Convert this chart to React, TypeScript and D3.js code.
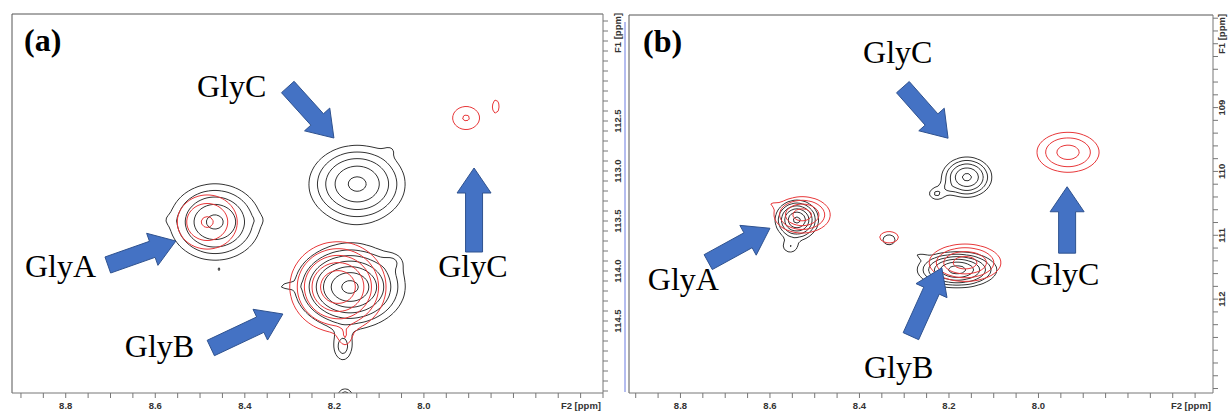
import { useMemo } from 'react'
import * as d3 from 'd3'

// ppm values
const f2Labels = [8.8, 8.6, 8.4, 8.2, 8.0]
const f1LabelsA = [112.5, 113.0, 113.5, 114.0, 114.5]
const f1LabelsB = [109, 110, 111, 112]

const levels = [1, 1.8, 3.2, 5.8, 10.5, 19, 34]

// peaks: [F2 ppm, F1 ppm, F2 width, F1 width, height]
const blackPeaksA = [
  [8.467, 113.51, 0.0885, 0.335, 12],
  [8.567, 113.49, 0.022, 0.08, 0.4],
  [8.371, 113.49, 0.022, 0.08, 0.35],
  [8.458, 113.99, 0.0067, 0.04, 0.9],
  [8.149, 113.13, 0.094, 0.34, 12],
  [8.076, 112.79, 0.027, 0.1, 0.5],
  [8.165, 114.16, 0.079, 0.27, 40],
  [8.181, 114.76, 0.032, 0.22, 2.2],
  [8.305, 114.15, 0.036, 0.045, 1.0],
  [8.071, 113.91, 0.034, 0.12, 1.2],
  [8.176, 115.26, 0.025, 0.12, 3],
]
const redPeaksA = [
  [8.484, 113.51, 0.094, 0.38, 3.4],
  [8.192, 114.16, 0.083, 0.35, 19],
  [8.176, 114.66, 0.024, 0.16, 1.2],
  [7.906, 112.47, 0.061, 0.235, 1.9],
  [7.839, 112.35, 0.022, 0.2, 1.2],
]
const blackPeaksB = [
  [8.54, 110.76, 0.036, 0.23, 22],
  [8.555, 111.18, 0.03, 0.18, 1.6],
  [8.334, 111.07, 0.035, 0.2, 1.5],
  [8.182, 111.54, 0.064, 0.203, 25],
  [8.265, 111.32, 0.03, 0.08, 0.8],
  [8.16, 110.09, 0.049, 0.276, 12],
  [8.2, 110.25, 0.022, 0.12, 1.0],
  [8.228, 110.35, 0.03, 0.16, 1.8],
]
const redPeaksB = [
  [8.528, 110.68, 0.0626, 0.282, 8],
  [8.595, 110.51, 0.025, 0.1, 0.6],
  [8.334, 111.03, 0.053, 0.227, 1.5],
  [8.164, 111.43, 0.08, 0.29, 8],
  [7.934, 109.7, 0.0905, 0.407, 4],
]

// annotations: [text, F2, F1] and arrows [F2 tail, F1 tail, F2 tip, F1 tip]
const namesA = [
  ['GlyC', 8.507, 112.26],
  ['GlyA', 8.891, 114.06],
  ['GlyB', 8.668, 114.86],
  ['GlyC', 7.968, 114.06],
]
const arrowsA = [
  [8.304, 112.16, 8.201, 112.67],
  [8.706, 113.94, 8.554, 113.7],
  [8.476, 114.77, 8.315, 114.43],
  [7.888, 113.81, 7.888, 112.97],
]
const namesB = [
  ['GlyC', 8.392, 108.3],
  ['GlyA', 8.873, 111.86],
  ['GlyB', 8.39, 113.24],
  ['GlyC', 8.019, 111.78],
]
const arrowsB = [
  [8.303, 108.68, 8.202, 109.48],
  [8.738, 111.42, 8.6, 110.89],
  [8.285, 112.58, 8.216, 111.51],
  [7.936, 111.28, 7.936, 110.24],
]

function every(lo, hi, step) {
  const out = []
  for (let k = Math.ceil(lo / step - 1e-6); k * step <= hi + 1e-6; k++) out.push(+(k * step).toFixed(3))
  return out
}

function contourPaths(peaks, x, y, box) {
  const step = 3
  const x0 = box.left - 12, y0 = box.top - 12
  const nx = Math.ceil((box.right - box.left + 24) / step) + 1
  const ny = Math.ceil((box.bottom - box.top + 24) / step) + 1
  const values = new Array(nx * ny)
  for (let j = 0; j < ny; j++) {
    const f1 = y.invert(y0 + j * step)
    for (let i = 0; i < nx; i++) {
      const f2 = x.invert(x0 + i * step)
      let s = 0
      for (const [px, py, wx, wy, h] of peaks) {
        const u = ((f2 - px) / wx) ** 2 + ((f1 - py) / wy) ** 2
        s += h / (1 + u) ** 3
      }
      values[j * nx + i] = s
    }
  }
  const path = d3.geoPath(d3.geoTransform({
    point(gx, gy) { this.stream.point(x0 + (gx - 0.5) * step, y0 + (gy - 0.5) * step) }
  }))
  return d3.contours().size([nx, ny]).thresholds(levels)(values).map(c => path(c))
}

function arrowPoints(x0, y0, x1, y1) {
  const len = Math.hypot(x1 - x0, y1 - y0)
  const dx = (x1 - x0) / len, dy = (y1 - y0) / len
  const nx = -dy, ny = dx
  const sw = 8.5, hw = 17, hl = 25
  const bx = x1 - dx * hl, by = y1 - dy * hl
  const pts = [
    [x0 + nx * sw, y0 + ny * sw],
    [bx + nx * sw, by + ny * sw],
    [bx + nx * hw, by + ny * hw],
    [x1, y1],
    [bx - nx * hw, by - ny * hw],
    [bx - nx * sw, by - ny * sw],
    [x0 - nx * sw, y0 - ny * sw],
  ]
  return pts.map(p => p.join(',')).join(' ')
}

const axisFont = 'Liberation Sans, Arial, sans-serif'
const serif = 'Liberation Serif, Times New Roman, serif'

function Panel({ id, tag, box, xDomain, yDomain, f1Labels, f1Step, labelGap, black, red, names, arrows }) {
  const x = d3.scaleLinear().domain(xDomain).range([box.left, box.right])
  const y = d3.scaleLinear().domain(yDomain).range([box.top, box.bottom])
  const blackPaths = useMemo(() => contourPaths(black, x, y, box), [])
  const redPaths = useMemo(() => contourPaths(red, x, y, box), [])
  const xMinor = every(Math.min(...xDomain), Math.max(...xDomain), 0.05)
  const yMinor = every(yDomain[0], yDomain[1], f1Step)
  const labelX = box.right + labelGap

  return (
    <g>
      <defs>
        <clipPath id={id}>
          <rect x={box.left} y={box.top} width={box.right - box.left} height={box.bottom - box.top} />
        </clipPath>
      </defs>
      <g clipPath={`url(#${id})`} fill="none" strokeWidth={1}>
        {blackPaths.map((d, i) => <path key={'k' + i} d={d} stroke="#333" />)}
        {redPaths.map((d, i) => <path key={'r' + i} d={d} stroke="#e8383a" />)}
      </g>

      <line x1={box.left} x2={box.right} y1={box.top} y2={box.top} stroke="#555" />
      <line x1={box.left} x2={box.left} y1={box.top} y2={box.bottom} stroke="#555" />
      <line x1={box.left} x2={box.right} y1={box.bottom} y2={box.bottom} stroke="#777" />
      <line x1={box.right} x2={box.right} y1={box.top} y2={box.bottom} stroke="#777" />

      {xMinor.map(v => (
        <line key={'xt' + v} x1={x(v)} x2={x(v)} y1={box.bottom} y2={box.bottom + 5} stroke="#777" />
      ))}
      {yMinor.map(v => (
        <line key={'yt' + v} x1={box.right} x2={box.right + 5} y1={y(v)} y2={y(v)} stroke="#777" />
      ))}
      <g fontFamily={axisFont} fontSize={9.5} fontWeight="bold" fill="#333">
        {f2Labels.map(v => (
          <text key={'xl' + v} x={x(v)} y={box.bottom + 16} textAnchor="middle">{v.toFixed(1)}</text>
        ))}
        <text x={box.right - 2} y={box.bottom + 16} textAnchor="end">F2 [ppm]</text>
        {f1Labels.map(v => (
          <text key={'yl' + v} transform={`translate(${labelX},${y(v)}) rotate(-90)`} textAnchor="middle">
            {f1Step < 0.15 ? v.toFixed(1) : v}
          </text>
        ))}
        <text transform={`translate(${labelX},${box.top + 19}) rotate(-90)`} textAnchor="middle">F1 [ppm]</text>
      </g>

      {arrows.map((a, i) => (
        <polygon key={'a' + i} points={arrowPoints(x(a[0]), y(a[1]), x(a[2]), y(a[3]))}
          fill="#4472c4" stroke="#2f528f" strokeWidth={1} />
      ))}
      <g fontFamily={serif} fontSize={32} fill="#000">
        {names.map((n, i) => <text key={'n' + i} x={x(n[1])} y={y(n[2])}>{n[0]}</text>)}
      </g>
      <text x={box.left + 12 + (tag === '(b)' ? 2 : 0)} y={box.top + 37} fontFamily={serif} fontSize={32} fontWeight="bold">{tag}</text>
    </g>
  )
}

export default function App() {
  return (
    <svg width={1230} height={411} style={{ position: 'absolute', left: 0, top: 0, background: '#fff' }}>
      <rect width={1230} height={411} fill="#fff" />
      <Panel id="clipA" tag="(a)" box={{ left: 12, right: 603, top: 14, bottom: 393 }}
        xDomain={[8.92, 7.6]} yDomain={[111.43, 115.22]} f1Labels={f1LabelsA} f1Step={0.1} labelGap={18}
        black={blackPeaksA} red={redPeaksA} names={namesA} arrows={arrowsA} />
      <Panel id="clipB" tag="(b)" box={{ left: 629, right: 1213, top: 15, bottom: 393 }}
        xDomain={[8.915, 7.61]} yDomain={[107.55, 113.47]} f1Labels={f1LabelsB} f1Step={0.2} labelGap={12}
        black={blackPeaksB} red={redPeaksB} names={namesB} arrows={arrowsB} />
      <line x1={625} x2={625} y1={22} y2={392} stroke="#6b7be0" strokeWidth={1} />
    </svg>
  )
}
